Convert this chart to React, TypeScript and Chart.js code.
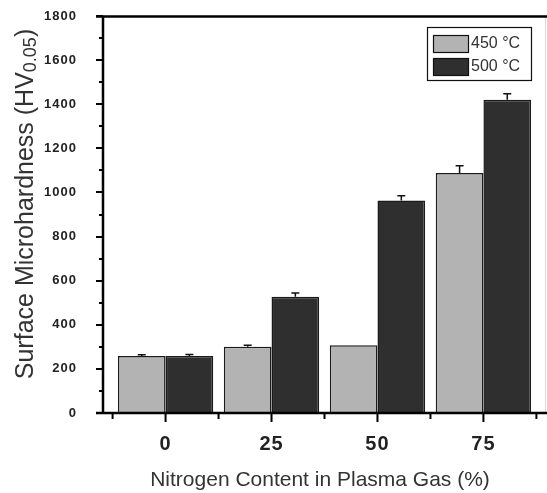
import React, { useEffect, useRef } from "react";
import { Chart, registerables } from "chart.js";

Chart.register(...registerables);

const categories = ["0", "25", "50", "75"];
const seriesLabels = ["450 °C", "500 °C"];
const values450 = [258, 300, 307, 1088];
const values500 = [259, 527, 963, 1420];
const errors450 = [6, 7, 0, 33];
const errors500 = [6, 17, 22, 27];
const yMin = 0;
const yMax = 1800;
const yStep = 200;
const xTitle = "Nitrogen Content in Plasma Gas (%)";
const yTitleMain = "Surface Microhardness (HV";
const yTitleSub = "0.05";
const yTitleEnd = ")";

const FONT = "'Liberation Sans', Arial, sans-serif";
const colors = ["#b3b3b3", "#2f2f2f"];
const errorSets = [errors450, errors500];

const decorPlugin = {
  id: "decor",
  beforeDraw(chart: any) {
    (chart.ctx as any).letterSpacing = "1px";
  },
  afterDraw(chart: any) {
    const ctx: CanvasRenderingContext2D = chart.ctx;
    (ctx as any).letterSpacing = "0px";
    const ys = chart.scales.y;
    const xs = chart.scales.x;
    const area = chart.chartArea;
    ctx.save();

    // error bars
    chart.data.datasets.forEach((ds: any, di: number) => {
      const meta = chart.getDatasetMeta(di);
      meta.data.forEach((el: any, i: number) => {
        const err = errorSets[di][i];
        if (!err) return;
        const v = ds.data[i].y;
        const yTop = ys.getPixelForValue(v + err);
        ctx.strokeStyle = "#111";
        ctx.lineWidth = 1.5;
        ctx.beginPath();
        ctx.moveTo(el.x, el.y);
        ctx.lineTo(el.x, yTop);
        ctx.moveTo(el.x - 4, yTop);
        ctx.lineTo(el.x + 4, yTop);
        ctx.stroke();
      });
    });

    // faint right frame
    ctx.strokeStyle = "#d8d8d8";
    ctx.lineWidth = 1;
    ctx.beginPath();
    ctx.moveTo(545.5, area.top);
    ctx.lineTo(545.5, area.bottom);
    ctx.stroke();

    // axes
    ctx.strokeStyle = "#000";
    ctx.lineWidth = 2.5;
    ctx.beginPath();
    ctx.moveTo(area.left + 1, area.top);
    ctx.lineTo(area.left + 1, area.bottom + 1);
    ctx.moveTo(area.left - 6, area.bottom);
    ctx.lineTo(area.right, area.bottom);
    ctx.moveTo(area.left - 6, area.top + 0.5);
    ctx.lineTo(area.right, area.top + 0.5);
    ctx.stroke();

    // y ticks
    ctx.lineWidth = 2;
    ctx.beginPath();
    for (let v = yMin; v <= yMax; v += yStep / 2) {
      const py = Math.round(ys.getPixelForValue(v));
      const major = v % yStep === 0;
      ctx.moveTo(area.left - (major ? 6 : 3), py);
      ctx.lineTo(area.left + 1, py);
    }
    // x ticks
    for (let i = 0; i < categories.length; i++) {
      const px = xs.getPixelForValue(i);
      ctx.moveTo(px, area.bottom);
      ctx.lineTo(px, area.bottom + 9);
    }
    for (let i = 0; i <= categories.length; i++) {
      const px = xs.getPixelForValue(i - 0.5);
      ctx.moveTo(px, area.bottom);
      ctx.lineTo(px, area.bottom + 6);
    }
    ctx.stroke();

    // legend
    const lx = 427, ly = 27, lw = 104, lh = 53;
    ctx.fillStyle = "#fff";
    ctx.fillRect(lx, ly, lw, lh);
    ctx.strokeStyle = "#111";
    ctx.lineWidth = 1.2;
    ctx.strokeRect(lx + 0.5, ly + 0.5, lw, lh);
    chart.data.datasets.forEach((ds: any, di: number) => {
      const sy = 35 + di * 23;
      ctx.fillStyle = ds.backgroundColor;
      ctx.fillRect(433, sy, 35, 17);
      ctx.strokeStyle = "#111";
      ctx.lineWidth = 1.2;
      ctx.strokeRect(433.5, sy + 0.5, 35, 17);
      ctx.fillStyle = "#333";
      ctx.font = `16px ${FONT}`;
      ctx.textBaseline = "middle";
      ctx.textAlign = "left";
      ctx.fillText(ds.label, 471, sy + 9);
    });

    // x title
    ctx.fillStyle = "#333";
    ctx.font = `21px ${FONT}`;
    ctx.textAlign = "center";
    ctx.textBaseline = "alphabetic";
    ctx.fillText(xTitle, 320, 486);

    // y title (rotated with subscript)
    ctx.save();
    ctx.translate(33, 204);
    ctx.rotate(-Math.PI / 2);
    const mainFont = `25px ${FONT}`;
    const subFont = `18px ${FONT}`;
    ctx.font = mainFont;
    const w1 = ctx.measureText(yTitleMain).width;
    const w3 = ctx.measureText(yTitleEnd).width;
    ctx.font = subFont;
    const w2 = ctx.measureText(yTitleSub).width;
    const total = w1 + w2 + w3;
    const x0 = -total / 2;
    ctx.textAlign = "left";
    ctx.font = mainFont;
    ctx.fillText(yTitleMain, x0, 0);
    ctx.font = subFont;
    ctx.fillText(yTitleSub, x0 + w1, 3);
    ctx.font = mainFont;
    ctx.fillText(yTitleEnd, x0 + w1 + w2, 0);
    ctx.restore();

    ctx.restore();
  },
};

export default function App() {
  const ref = useRef<HTMLCanvasElement | null>(null);
  useEffect(() => {
    if (!ref.current) return;
    const chart = new Chart(ref.current, {
      type: "bar",
      data: {
        datasets: [values450, values500].map((vals, di) => ({
          label: seriesLabels[di],
          data: vals.map((v, i) => ({ x: i, y: v })),
          backgroundColor: colors[di],
          borderColor: "#1a1a1a",
          borderWidth: 1.5,
          categoryPercentage: 0.9,
          barPercentage: 1.0,
        })),
      },
      options: {
        animation: false,
        responsive: false,
        maintainAspectRatio: false,
        layout: { padding: { left: 0, right: 0, top: 16, bottom: 0 } },
        plugins: {
          legend: { display: false },
          tooltip: { enabled: false },
          title: { display: false },
        },
        scales: {
          x: {
            type: "linear",
            min: -0.6,
            max: 3.6,
            offset: false,
            grid: { display: false },
            border: { display: false },
            afterBuildTicks: (s: any) => {
              s.ticks = categories.map((_, i) => ({ value: i }));
            },
            afterFit: (s: any) => {
              s.height = 80;
              s.paddingLeft = 0;
              s.paddingRight = 0;
              s.paddingTop = 0;
              s.paddingBottom = 0;
            },
            ticks: {
              autoSkip: false,
              maxRotation: 0,
              padding: 11,
              color: "#222",
              font: { family: "'Liberation Sans Narrow', 'Liberation Sans', Arial, sans-serif", size: 20, weight: "bold" },
              callback: (v: any) => categories[v] ?? "",
            },
          },
          y: {
            min: yMin,
            max: yMax,
            grid: { display: false },
            border: { display: false },
            afterFit: (s: any) => {
              s.width = 102;
              s.paddingTop = 0;
              s.paddingBottom = 0;
              s.paddingLeft = 0;
              s.paddingRight = 0;
            },
            ticks: {
              stepSize: yStep,
              padding: 17,
              color: "#222",
              font: { family: FONT, size: 13, weight: "bold" },
              callback: (v: any) => String(v),
            },
          },
        },
      },
      plugins: [decorPlugin],
    } as any);
    return () => chart.destroy();
  }, []);
  return (
    <div style={{ position: "fixed", left: 0, top: 0, width: 547, height: 493, background: "#fff" }}>
      <canvas ref={ref} width={547} height={493} style={{ width: 547, height: 493 }} />
    </div>
  );
}
